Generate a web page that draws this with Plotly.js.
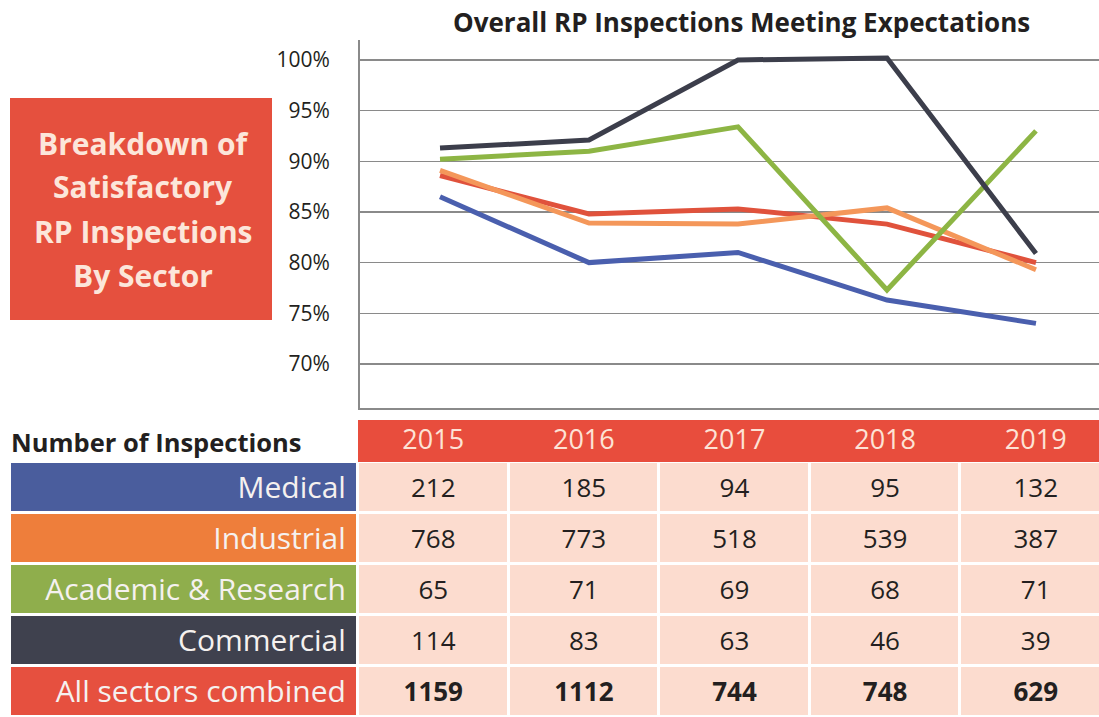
<!DOCTYPE html>
<html>
<head>
<meta charset="utf-8">
<script src="https://cdn.plot.ly/plotly-3.0.1.min.js"></script>
<style>html,body{margin:0;padding:0;background:#fff;}#chart{width:1099px;height:717px;}</style>
</head>
<body>
<div id="chart"></div>
<script>
// ---- data ----
const years = ['2015', '2016', '2017', '2018', '2019'];
const sectors = ['Medical', 'Industrial', 'Academic & Research', 'Commercial', 'All sectors combined'];

// % of inspections meeting expectations
const pctMedical    = [86.5, 80.0, 81.0, 76.3, 74.0];
const pctIndustrial = [89.1, 83.9, 83.8, 85.4, 79.3];
const pctAcademic   = [90.2, 91.0, 93.4, 77.3, 93.0];
const pctCommercial = [91.3, 92.1, 100.0, 100.2, 80.9];
const pctAll        = [88.6, 84.8, 85.3, 83.8, 80.0];

// number of inspections (table)
const nMedical    = [212, 185, 94, 95, 132];
const nIndustrial = [768, 773, 518, 539, 387];
const nAcademic   = [65, 71, 69, 68, 71];
const nCommercial = [114, 83, 63, 46, 39];
const nAll        = [1159, 1112, 744, 748, 629];

const yTicks = [70, 75, 80, 85, 90, 95, 100];
const yTickText = ['70%', '75%', '80%', '85%', '90%', '95%', '100%'];

const titleLines = ['Breakdown of', 'Satisfactory', 'RP Inspections', 'By Sector'];

// ---- styles ----
const FONT = '"Open Sans", "Noto Sans", sans-serif';
const W = 1099, H = 717;
const RED = '#e5503e';
const lineColors = {all: '#e0523c', med: '#4a5fae', ind: '#f4975a', aca: '#8db544', com: '#3c3e4b'};
// discrete cell palette: 0 white, 1 header red, 2 peach, 3..7 row label colours
const cellPalette = ['#ffffff', '#e84d3d', '#fcdccf', '#4a5d9d', '#ee7e3b', '#8fae4c', '#3f414e', '#e6503f'];
const LABEL_W = 2.31;     // label column width in year-column units
const HEADER_H = 42 / 51; // header height in body-row units

const px = v => v / W;
const py = v => 1 - v / H;

function lineTrace(y, color) {
  return {type: 'scatter', mode: 'lines', x: years, y: y,
    line: {color: color, width: 5}, hoverinfo: 'skip', showlegend: false,
    xaxis: 'x', yaxis: 'y'};
}

const traces = [];

// ---- table (heatmap cells + text) ----
// column edges: label column, then one unit per year
const xEdges = [-LABEL_W, 0].concat(years.map((_, j) => j + 1));
const cscale = [];
cellPalette.forEach((c, k) => {
  cscale.push([k / cellPalette.length, c]);
  cscale.push([(k + 1) / cellPalette.length, c]);
});
const heatCommon = {type: 'heatmap', xaxis: 'x2', yaxis: 'y2', colorscale: cscale,
  zmin: -0.5, zmax: cellPalette.length - 0.5, showscale: false, hoverinfo: 'skip'};

traces.push(Object.assign({}, heatCommon, {
  x: xEdges, y: [-HEADER_H, 0],
  z: [[0].concat(years.map(() => 1))], xgap: 0, ygap: 0
}));
traces.push(Object.assign({}, heatCommon, {
  x: xEdges, y: sectors.map((_, i) => i).concat([sectors.length]),
  z: sectors.map((_, i) => [3 + i].concat(years.map(() => 2))), xgap: 3, ygap: 3
}));

// header years
traces.push({type: 'scatter', mode: 'text', xaxis: 'x2', yaxis: 'y2',
  x: years.map((_, j) => j + 0.5), y: years.map(() => -HEADER_H / 2 + 0.02),
  text: years, textposition: 'middle center',
  textfont: {family: FONT, size: 27, color: '#fde3d6'}, hoverinfo: 'skip', showlegend: false});
// row labels
traces.push({type: 'scatter', mode: 'text', xaxis: 'x2', yaxis: 'y2',
  x: sectors.map(() => -0.08), y: sectors.map((_, i) => i + 0.55),
  text: sectors, textposition: 'middle left',
  textfont: {family: FONT, size: 30, color: '#f5f1ef'}, hoverinfo: 'skip', showlegend: false});
// values
const counts = [nMedical, nIndustrial, nAcademic, nCommercial, nAll];
const vx = [], vy = [], vt = [];
counts.forEach((arr, i) => arr.forEach((v, j) => {
  vx.push(j + 0.5); vy.push(i + 0.55);
  vt.push(i === counts.length - 1 ? '<b>' + v + '</b>' : String(v));
}));
traces.push({type: 'scatter', mode: 'text', xaxis: 'x2', yaxis: 'y2',
  x: vx, y: vy, text: vt, textposition: 'middle center',
  textfont: {family: FONT, size: 26, color: '#231f20'}, hoverinfo: 'skip', showlegend: false});

// ---- line chart ----
traces.push(lineTrace(pctAll, lineColors.all));
traces.push(lineTrace(pctMedical, lineColors.med));
traces.push(lineTrace(pctIndustrial, lineColors.ind));
traces.push(lineTrace(pctAcademic, lineColors.aca));
traces.push(lineTrace(pctCommercial, lineColors.com));

const annotations = [
  {text: '<b>Overall RP Inspections Meeting Expectations</b>', x: px(741), y: py(22),
   xref: 'paper', yref: 'paper', showarrow: false, xanchor: 'center', yanchor: 'middle',
   font: {family: FONT, size: 26, color: '#231f20'}},
  {text: '<b>Number of Inspections</b>', x: px(9), y: py(442),
   xref: 'paper', yref: 'paper', showarrow: false, xanchor: 'left', yanchor: 'middle',
   font: {family: FONT, size: 25.5, color: '#231f20'}}
];
const titleY = [143, 187, 231, 275];
titleLines.forEach((t, i) => annotations.push({
  text: '<b>' + t + '</b>', x: px(143), y: py(titleY[i]), xref: 'paper', yref: 'paper',
  showarrow: false, xanchor: 'center', yanchor: 'middle',
  font: {family: FONT, size: 30, color: '#fce6da'}
}));

const layout = {
  width: W, height: H,
  margin: {l: 0, r: 0, t: 0, b: 0, pad: 0},
  paper_bgcolor: '#ffffff', plot_bgcolor: '#ffffff',
  showlegend: false,
  xaxis: {
    domain: [px(360), 1], type: 'category', range: [-0.537, 4.423],
    showgrid: false, zeroline: false, showline: true, linecolor: '#8a8a8a', linewidth: 2,
    showticklabels: false, ticks: '', fixedrange: true, anchor: 'y'
  },
  yaxis: {
    domain: [py(408), py(40)], range: [65.65, 101.97], anchor: 'x',
    tickmode: 'array', tickvals: yTicks, ticktext: yTickText, ticks: '', ticklabelstandoff: 24,
    tickfont: {family: FONT, size: 21, color: '#231f20'},
    showgrid: true, gridcolor: '#8a8a8a', gridwidth: 1.5,
    zeroline: false, showline: true, linecolor: '#8a8a8a', linewidth: 2, fixedrange: true
  },
  xaxis2: {
    domain: [px(10), 1], range: [-LABEL_W, 4.92], anchor: 'y2',
    visible: false, showgrid: false, zeroline: false, fixedrange: true
  },
  yaxis2: {
    domain: [0, 297 / H], range: [sectors.length, -HEADER_H], anchor: 'x2',
    visible: false, showgrid: false, zeroline: false, fixedrange: true
  },
  shapes: [
    {type: 'rect', xref: 'paper', yref: 'paper', x0: px(10), x1: px(272), y0: py(320), y1: py(98),
     fillcolor: RED, line: {width: 0}, layer: 'below'}
  ],
  annotations: annotations
};

Plotly.newPlot('chart', traces, layout, {displayModeBar: false, staticPlot: true});
</script>
</body>
</html>
